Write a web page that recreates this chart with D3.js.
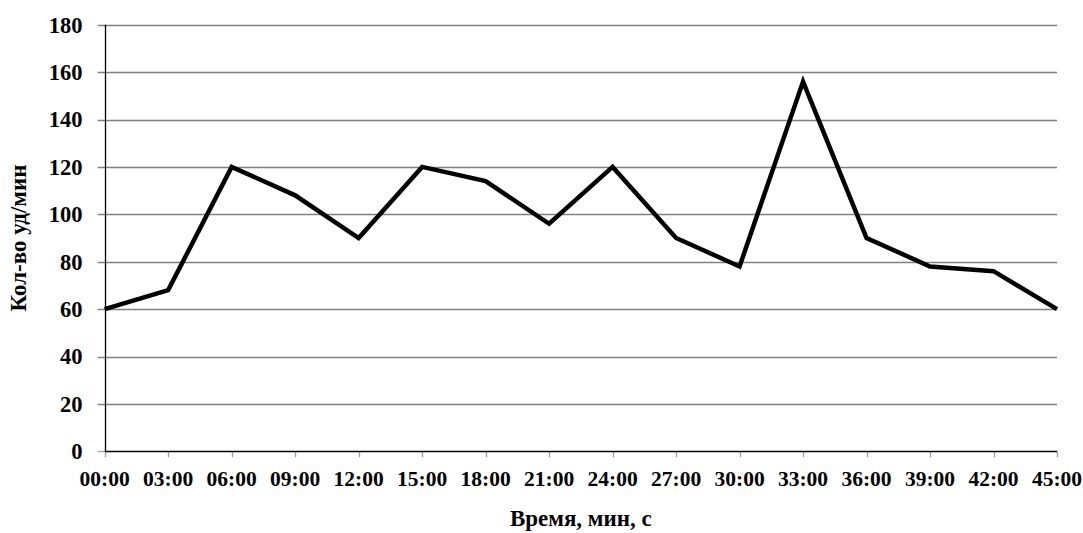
<!DOCTYPE html>
<html>
<head>
<meta charset="utf-8">
<script src="https://cdn.jsdelivr.net/npm/d3@7"></script>
<style>
  body { margin: 0; background: #fff; }
  text { font-family: "Liberation Serif", "Times New Roman", serif; font-weight: bold; }
</style>
</head>
<body>
<svg id="chart" width="1083" height="533"></svg>
<script>
const times = ["00:00","03:00","06:00","09:00","12:00","15:00","18:00","21:00","24:00","27:00","30:00","33:00","36:00","39:00","42:00","45:00"]
const beats = [60, 68, 120, 108, 90, 120, 114, 96, 120, 90, 78, 156, 90, 78, 76, 60]
const yTicks = [0, 20, 40, 60, 80, 100, 120, 140, 160, 180]
const xTitle = "Время, мин, с"
const yTitle = "Кол-во уд/мин"

const svg = d3.select("#chart")
const margin = { top: 24.7, right: 26, bottom: 81.7, left: 104.7 }
const width = 1083, height = 533

const x = d3.scalePoint().domain(times).range([margin.left, width - margin.right])
const y = d3.scaleLinear().domain([0, 180]).range([height - margin.bottom, margin.top])

// grid lines (with short ticks on the left of the axis)
svg.selectAll(".grid").data(yTicks.filter(d => d > 0)).join("line").attr("class", "grid")
  .attr("x1", margin.left - 7).attr("x2", width - margin.right)
  .attr("y1", d => Math.round(y(d)) + 0.5).attr("y2", d => Math.round(y(d)) + 0.5)
  .attr("stroke", "#808080").attr("stroke-width", 1.3)
svg.append("line").attr("x1", margin.left - 7).attr("x2", margin.left)
  .attr("y1", Math.round(y(0)) + 0.5).attr("y2", Math.round(y(0)) + 0.5)
  .attr("stroke", "#a0a0a0").attr("stroke-width", 1.3)

// y labels
svg.selectAll(".ylab").data(yTicks).join("text").attr("class", "ylab")
  .attr("x", 82.5).attr("y", d => y(d)).attr("dy", "0.35em")
  .attr("text-anchor", "end").attr("font-size", 22.5).text(d => d)

// x ticks + labels
svg.selectAll(".xtick").data(times).join("line").attr("class", "xtick")
  .attr("x1", d => Math.round(x(d)) + 0.5).attr("x2", d => Math.round(x(d)) + 0.5)
  .attr("y1", y(0)).attr("y2", y(0) + 6)
  .attr("stroke", "#a0a0a0").attr("stroke-width", 1.3)
svg.selectAll(".xlab").data(times).join("text").attr("class", "xlab")
  .attr("x", d => x(d)).attr("y", 486)
  .attr("text-anchor", "middle").attr("font-size", 21.5).text(d => d)

// axes
svg.append("line").attr("x1", Math.round(margin.left) + 0.5).attr("x2", Math.round(margin.left) + 0.5)
  .attr("y1", y(180)).attr("y2", y(0)).attr("stroke", "#000").attr("stroke-width", 1.3)
svg.append("line").attr("x1", margin.left).attr("x2", width - margin.right)
  .attr("y1", Math.round(y(0)) + 0.5).attr("y2", Math.round(y(0)) + 0.5)
  .attr("stroke", "#000").attr("stroke-width", 1.5)

// series
const line = d3.line().x((d, i) => x(times[i])).y(d => y(d))
svg.append("path").attr("d", line(beats))
  .attr("fill", "none").attr("stroke", "#000").attr("stroke-width", 4.5)
  .attr("stroke-linejoin", "miter")

// titles
svg.append("text").attr("x", (margin.left + width - margin.right) / 2).attr("y", 526)
  .attr("text-anchor", "middle").attr("font-size", 23).text(xTitle)
svg.append("text").attr("transform", "translate(26," + (margin.top + height - margin.bottom) / 2 + ") rotate(-90)")
  .attr("text-anchor", "middle").attr("font-size", 23).text(yTitle)
</script>
</body>
</html>
